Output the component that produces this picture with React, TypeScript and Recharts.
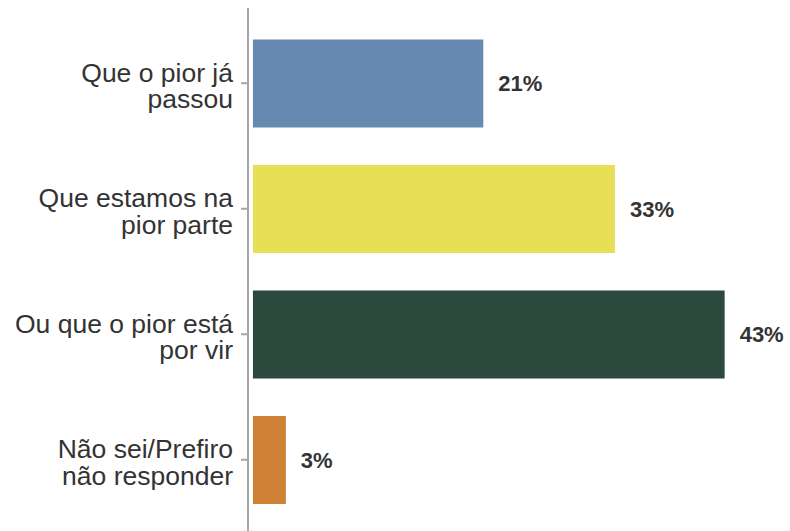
import { BarChart, Bar, XAxis, YAxis, Cell, LabelList } from 'recharts';

const categories = [
  'Que o pior já\npassou',
  'Que estamos na\npior parte',
  'Ou que o pior está\npor vir',
  'Não sei/Prefiro\nnão responder',
];
const values = [21, 33, 43, 3];
const colors = ['#6689b2', '#e9df56', '#2c493e', '#cf8235'];

const data = categories.map((name, i) => ({ name, value: values[i] }));

const FONT = '"Liberation Sans", Arial, sans-serif';

// splits "\n" in category names into stacked lines
function MultiLineTick({ x, y, payload }: any) {
  const lines = String(payload.value).split('\n');
  return (
    <text x={x} y={y} textAnchor="end" fill="#333333" fontSize={26.5} fontFamily={FONT}>
      {lines.map((line, i) => (
        <tspan key={i} x={x} y={y - 1.5 + i * 26.5}>
          {line}
        </tspan>
      ))}
    </text>
  );
}

export default function App() {
  return (
    <div style={{ position: 'absolute', left: 0, top: 0, background: '#fff' }}>
      <BarChart
        width={790}
        height={531}
        data={data}
        layout="vertical"
        margin={{ top: 8, right: 10.5, bottom: 0, left: 0 }}
        barSize={88}
      >
        <XAxis type="number" hide domain={[-0.45, 48]} />
        <YAxis
          type="category"
          dataKey="name"
          width={248}
          padding={{ top: 12.5, bottom: 8.5 }}
          axisLine={{ stroke: '#a6a6a6', strokeWidth: 2 }}
          tickLine={{ stroke: '#a6a6a6', strokeWidth: 2 }}
          tickSize={7}
          tickMargin={8}
          tick={<MultiLineTick />}
          interval={0}
        />
        <Bar dataKey="value" isAnimationActive={false}>
          {data.map((d, i) => (
            <Cell key={d.name} fill={colors[i]} />
          ))}
          <LabelList
            dataKey="value"
            position="right"
            offset={15}
            formatter={(v: any) => `${v}%`}
            fill="#333333"
            fontSize={22}
            fontWeight="bold"
            fontFamily={FONT}
          />
        </Bar>
      </BarChart>
    </div>
  );
}
